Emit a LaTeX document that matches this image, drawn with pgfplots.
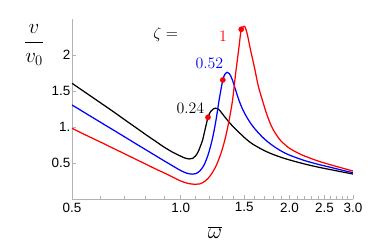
\RequirePackage{fix-cm}
\documentclass[border=0pt]{standalone}
\usepackage{fontspec}
\usepackage{pgfplots}
\pgfplotsset{compat=1.18}
\newfontfamily\arialf{Liberation Sans}
\definecolor{axgray}{RGB}{178,178,178}
\definecolor{mred}{RGB}{255,0,0}
\definecolor{mblue}{RGB}{0,0,255}
\begin{document}
\begin{tikzpicture}
\path[use as bounding box] (-72bp,-50bp) rectangle (302bp,199bp);
\begin{axis}[
  at={(0,0)}, anchor=south west,
  scale only axis, width=281bp, height=180bp,
  xmode=log, xmin=0.5, xmax=3.0, ymin=0, ymax=2.5,
  axis lines=left, axis line style={-, draw=axgray, line width=0.6pt},
  tick align=inside,
  tick style={axgray, line width=0.6pt},
  major tick length=4bp, minor tick length=2.5bp,
  xtick={0.5,1,1.5,2,2.5,3}, xticklabels={0.5,1.0,1.5,2.0,2.5,3.0},
  minor xtick={0.6,0.7,0.8,0.9,1.1,1.2,1.3,1.4,1.6,1.7,1.8,1.9,2.1,2.2,2.3,2.4,2.6,2.7,2.8,2.9},
  ytick={0.5,1,1.5,2}, yticklabels={0.5,1.,1.5,2},
  /pgf/number format/assume math mode=true,
  ticklabel style={font=\arialf\fontsize{13.5}{16}\selectfont, text=black},
  yticklabel style={inner sep=1.5pt},
  xticklabel style={inner sep=3.5pt},
  xlabel={$\overline{\omega}$},
  every axis x label/.style={at={(rel axis cs:0.509,0)}, anchor=base, yshift=-39bp, font=\fontsize{22}{26}\selectfont},
  ylabel={$\displaystyle\frac{v}{v_0}$},
  every axis y label/.style={at={(rel axis cs:-0.135,0.84)}, anchor=base, font=\fontsize{21}{25}\selectfont},
]
\addplot[black, line width=1.25pt, smooth] coordinates {
(0.5,1.607) (0.55,1.465) (0.6,1.335) (0.65,1.215) (0.7,1.10) (0.75,0.995) (0.8,0.895)
(0.85,0.805) (0.9,0.72) (0.95,0.65) (1.0,0.595) (1.03,0.567) (1.055,0.556) (1.08,0.565)
(1.1,0.60) (1.12,0.665) (1.135,0.74) (1.15,0.82) (1.17,0.98) (1.19,1.135) (1.21,1.215)
(1.23,1.25) (1.25,1.262) (1.27,1.25) (1.29,1.215) (1.32,1.15) (1.36,1.07) (1.4,1.00)
(1.45,0.925) (1.5,0.855) (1.55,0.795) (1.6,0.748) (1.7,0.675) (1.8,0.62) (1.9,0.578)
(2.0,0.543) (2.2,0.487) (2.4,0.443) (2.6,0.408) (2.8,0.376) (3.0,0.347)};
\addplot[mblue, line width=1.25pt, smooth] coordinates {
(0.5,1.306) (0.55,1.18) (0.6,1.065) (0.65,0.96) (0.7,0.862) (0.75,0.77) (0.8,0.685)
(0.85,0.605) (0.9,0.53) (0.95,0.46) (1.0,0.395) (1.04,0.358) (1.076,0.345) (1.1,0.352)
(1.13,0.39) (1.16,0.47) (1.19,0.61) (1.222,0.82) (1.25,1.07) (1.28,1.40) (1.308,1.653)
(1.325,1.73) (1.345,1.76) (1.365,1.74) (1.39,1.655) (1.42,1.51) (1.449,1.375) (1.48,1.26)
(1.512,1.167) (1.56,1.055) (1.615,0.958) (1.7,0.84) (1.8,0.74) (1.9,0.665) (2.0,0.61)
(2.2,0.535) (2.4,0.482) (2.6,0.44) (2.8,0.40) (3.0,0.365)};
\addplot[mred, line width=1.25pt, smooth] coordinates {
(0.5,0.982) (0.55,0.88) (0.6,0.79) (0.65,0.705) (0.7,0.627) (0.75,0.553) (0.8,0.485)
(0.85,0.42) (0.9,0.362) (0.95,0.305) (1.0,0.25) (1.05,0.215) (1.098,0.204) (1.13,0.21)
(1.17,0.25) (1.21,0.33) (1.25,0.45) (1.29,0.62) (1.325,0.82) (1.36,1.08) (1.392,1.375)
(1.419,1.736) (1.446,2.06) (1.471,2.357) (1.49,2.39) (1.505,2.395) (1.527,2.30)
(1.561,2.07) (1.6,1.83) (1.64,1.57) (1.683,1.375) (1.72,1.22) (1.76,1.08) (1.8,0.97)
(1.85,0.875) (1.9,0.80) (2.0,0.705) (2.1,0.645) (2.2,0.598) (2.4,0.528) (2.6,0.475)
(2.8,0.43) (3.0,0.389)};
\addplot[only marks, mark=*, mark size=2.6pt, mred] coordinates {(1.19,1.135) (1.308,1.653) (1.471,2.357)};
\node[inner sep=0pt, font=\fontsize{16}{19}\selectfont] at (axis cs:0.909,2.278) {$\zeta =$};
\node[inner sep=0pt, text=mred, font=\fontsize{16}{19}\selectfont] at (axis cs:1.31,2.264) {$1$};
\node[inner sep=0pt, text=mblue, font=\fontsize{16}{19}\selectfont] at (axis cs:1.201,1.889) {$0.52$};
\node[inner sep=0pt, font=\fontsize{16}{19}\selectfont] at (axis cs:1.064,1.264) {$0.24$};
\end{axis}
\end{tikzpicture}
\end{document}
